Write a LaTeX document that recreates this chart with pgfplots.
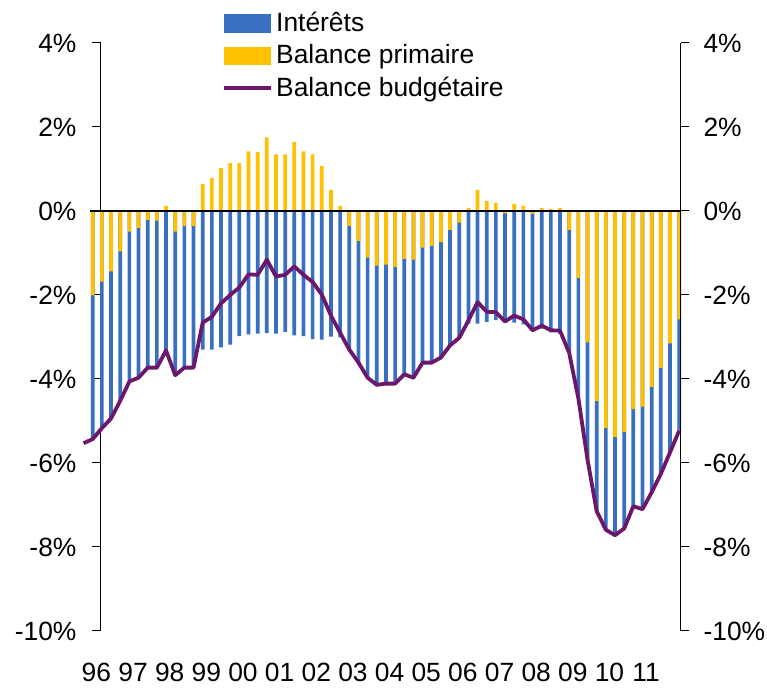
\documentclass[border=0pt]{standalone}
\usepackage{fontspec}
\setmainfont{Liberation Sans}
\usepackage{pgfplots}
\usepackage{pgfplotstable}
\pgfplotsset{compat=1.18}
\definecolor{blueI}{RGB}{56,111,192}
\definecolor{orangeP}{RGB}{255,192,0}
\definecolor{purp}{RGB}{108,22,108}
\newcommand\fs{\fontsize{13.2}{15.8}\selectfont}

% i = quarter index (0 = 1996Q1); B = bottom of the blue bar; P = primary balance
\pgfplotstableread{
i B P
0 -5.43 -2.01
1 -5.17 -1.68
2 -4.94 -1.44
3 -4.52 -0.96
4 -4.06 -0.49
5 -3.97 -0.40
6 -3.73 -0.21
7 -3.73 -0.23
8 -3.44 0.12
9 -3.91 -0.49
10 -3.73 -0.36
11 -3.73 -0.36
12 -3.30 0.64
13 -3.30 0.78
14 -3.25 1.02
15 -3.18 1.14
16 -2.98 1.14
17 -2.94 1.42
18 -2.92 1.40
19 -2.91 1.75
20 -2.92 1.35
21 -2.88 1.35
22 -2.96 1.64
23 -2.98 1.42
24 -3.05 1.35
25 -3.06 1.07
26 -2.99 0.50
27 -3.01 0.12
28 -3.30 -0.36
29 -3.61 -0.71
30 -3.97 -1.11
31 -4.14 -1.30
32 -4.11 -1.28
33 -4.11 -1.33
34 -3.89 -1.14
35 -3.97 -1.16
36 -3.61 -0.87
37 -3.61 -0.83
38 -3.49 -0.74
39 -3.20 -0.45
40 -3.02 -0.28
41 -2.68 0.07
42 -2.68 0.50
43 -2.64 0.24
44 -2.60 0.19
45 -2.63 -0.06
46 -2.66 0.17
47 -2.70 0.12
48 -2.84 -0.07
49 -2.80 0.07
50 -2.89 0.05
51 -2.92 0.07
52 -3.38 -0.45
53 -4.46 -1.59
54 -5.92 -3.13
55 -7.15 -4.52
56 -7.59 -5.17
57 -7.72 -5.38
58 -7.56 -5.26
59 -7.03 -4.72
60 -7.10 -4.66
61 -6.70 -4.19
62 -6.26 -3.74
63 -5.75 -3.15
64 -5.23 -2.58
}\bars

\pgfplotstableread{
i T
-1 -5.53
0 -5.43
1 -5.17
2 -4.94
3 -4.52
4 -4.06
5 -3.97
6 -3.73
7 -3.73
8 -3.32
9 -3.91
10 -3.73
11 -3.73
12 -2.66
13 -2.52
14 -2.20
15 -2.00
16 -1.82
17 -1.51
18 -1.52
19 -1.16
20 -1.56
21 -1.52
22 -1.32
23 -1.52
24 -1.69
25 -1.99
26 -2.49
27 -2.90
28 -3.30
29 -3.61
30 -3.97
31 -4.14
32 -4.11
33 -4.11
34 -3.89
35 -3.97
36 -3.61
37 -3.61
38 -3.49
39 -3.20
40 -3.02
41 -2.61
42 -2.17
43 -2.40
44 -2.41
45 -2.63
46 -2.49
47 -2.58
48 -2.84
49 -2.73
50 -2.84
51 -2.85
52 -3.38
53 -4.46
54 -5.92
55 -7.15
56 -7.59
57 -7.72
58 -7.56
59 -7.03
60 -7.10
61 -6.70
62 -6.26
63 -5.75
64 -5.23
}\balance

\pgfplotsset{
  base/.style={
    width=290pt, height=294pt, scale only axis,
    xmin=0.9, xmax=64.2, ymin=-10, ymax=4,
    clip=false,
    ytick={-10,-8,...,4},
    yticklabels={-10\%,-8\%,-6\%,-4\%,-2\%,0\%,2\%,4\%},
    tick label style={font=\fs},
    tick align=outside,
    major tick length=4.25pt,
    every tick/.style={black, line width=0.5pt},
    axis line style={black, line width=0.5pt},
  }
}

\begin{document}
\begin{tikzpicture}
\begin{axis}[base,
  axis x line*=middle, axis y line*=left,
  xtick={0.9,4.9,...,60.9}, xticklabels={},
  yticklabel style={xshift=-4.5pt},
  legend style={at={(rel axis cs:0.2086,1.053)}, anchor=north west,
    draw=none, fill=none, inner sep=0pt, font=\fs,
    row sep=5pt, column sep=2pt,
    nodes={inner sep=0pt, anchor=west}},
  legend cell align=left,
]
\addlegendimage{legend image code/.code={\fill[blueI] (0pt,-4.35pt) rectangle (23.3pt,4.35pt);}}
\addlegendentry{Intérêts}
\addlegendimage{legend image code/.code={\fill[orangeP] (0pt,-4.35pt) rectangle (23.3pt,4.35pt);}}
\addlegendentry{Balance primaire}
\addlegendimage{legend image code/.code={\draw[purp, line width=1.6pt] (0pt,0pt) -- (23.3pt,0pt);}}
\addlegendentry{Balance budgétaire}

\addplot[ybar, bar width=1.85pt, bar shift=0pt, fill=blueI, draw=none, forget plot]
  table[x=i, y=B] {\bars};
\addplot[ybar, bar width=1.85pt, bar shift=0pt, fill=orangeP, draw=none, forget plot]
  table[x=i, y=P] {\bars};
\addplot[black, line width=0.6pt, forget plot] coordinates {(-0.25,0) (64.2,0)};
\addplot[purp, line width=1.9pt, line join=round, forget plot] table[x=i, y=T] {\balance};

\coordinate (BL) at (rel axis cs:-0.1741,-0.0969);
\coordinate (TR) at (rel axis cs:1.1483,1.0731);
\end{axis}
\begin{axis}[base,
  axis x line*=bottom, axis y line*=right,
  x axis line style={draw=none},
  xtick={0.9,4.9,...,60.9},
  xticklabels={96,97,98,99,00,01,02,03,04,05,06,07,08,09,10,11},
  xtick style={draw=none},
  xticklabel style={yshift=-8.5pt, xshift=-2.3pt},
  yticklabel style={xshift=3.5pt},
]
\end{axis}
\pgfresetboundingbox
\path (BL) rectangle (TR);
\end{tikzpicture}
\end{document}
